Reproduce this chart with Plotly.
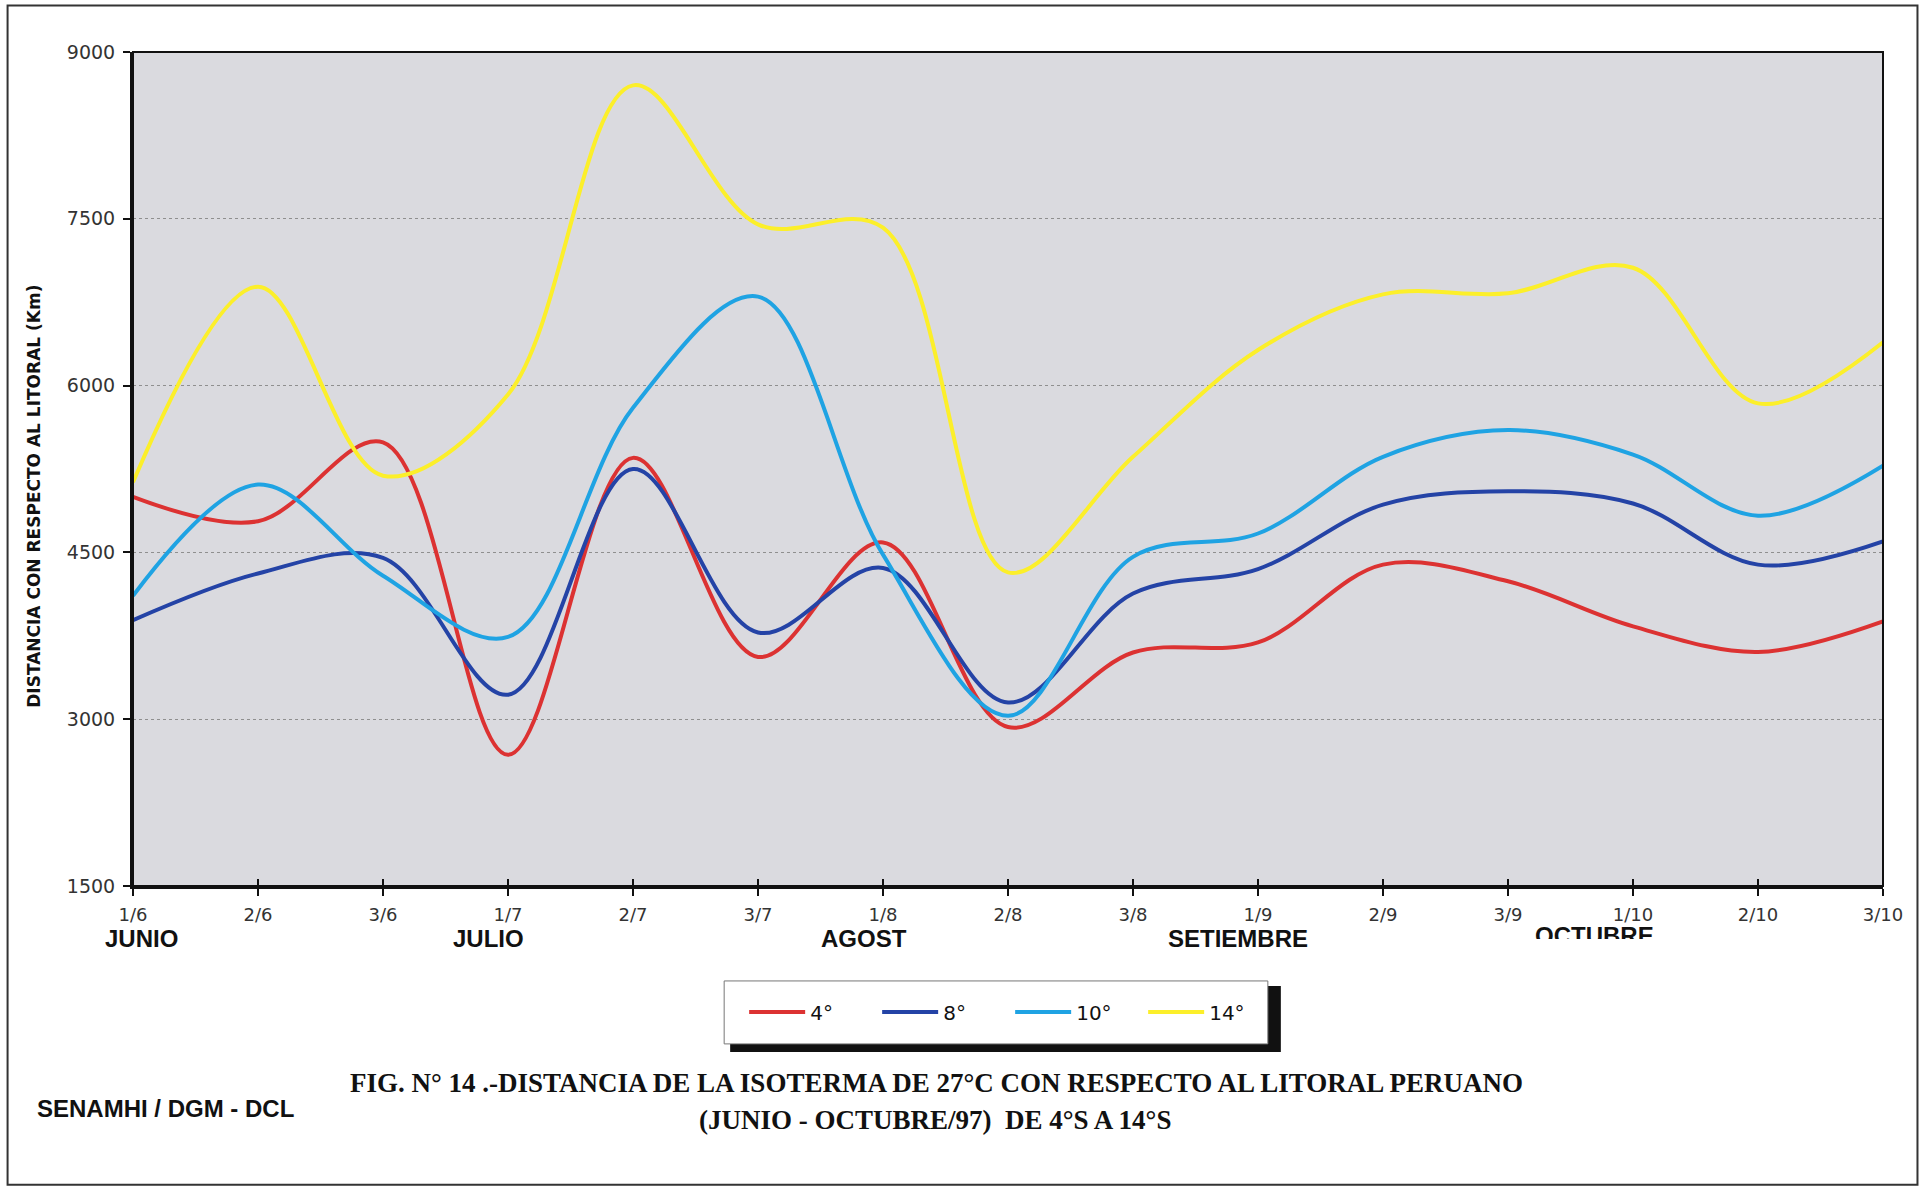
import plotly.graph_objects as go

# Fechas (decadas) de junio a octubre de 1997
categories = ["1/6", "2/6", "3/6", "1/7", "2/7", "3/7", "1/8", "2/8", "3/8",
              "1/9", "2/9", "3/9", "1/10", "2/10", "3/10"]

# Distancia (km) de la isoterma de 27 C al litoral, por latitud
lat_4 = [5000, 4780, 5490, 2680, 5350, 3560, 4590, 2930, 3600, 3690, 4390, 4240, 3835, 3605, 3880]
lat_8 = [3890, 4310, 4450, 3220, 5250, 3780, 4360, 3150, 4130, 4350, 4930, 5050, 4940, 4390, 4600]
lat_10 = [4110, 5110, 4290, 3740, 5800, 6800, 4480, 3030, 4460, 4670, 5360, 5600, 5380, 4830, 5280]
lat_14 = [5130, 6890, 5190, 5920, 8700, 7450, 7420, 4320, 5360, 6320, 6820, 6830, 7060, 5840, 6390]

series_names = ["4°", "8°", "10°", "14°"]
series_colors = ["#dc3232", "#2443a6", "#1fa3e3", "#fcef2a"]

months = ["JUNIO", "JULIO", "AGOST", "SETIEMBRE", "OCTUBRE"]
month_pos = [0.07, 2.84, 5.85, 8.84, 11.69]

y_ticks = [1500, 3000, 4500, 6000, 7500, 9000]

W, H = 1924, 1188
L, R, T, B = 132.5, 1883.5, 51.5, 886.0


def pxx(px):
    return (px - L) / (R - L)


def pxy(py):
    return (B - py) / (B - T)


x_idx = list(range(len(categories)))

fig = go.Figure()
for name, vals, color in zip(series_names, [lat_4, lat_8, lat_10, lat_14], series_colors):
    fig.add_trace(go.Scatter(
        x=x_idx, y=vals, mode="lines", name=name,
        line=dict(color=color, width=4, shape="spline", smoothing=1.0),
    ))

shapes = []
# outer frame of the figure
shapes.append(dict(type="rect", xref="paper", yref="paper",
                   x0=pxx(7), x1=pxx(1918), y0=pxy(1185), y1=pxy(5),
                   line=dict(color="#333333", width=2), layer="below"))
# plot border
shapes.append(dict(type="rect", xref="paper", yref="paper", x0=0, x1=1, y0=0, y1=1,
                   line=dict(color="#111111", width=2), layer="above"))
# inner half of the crossing x ticks
for i in x_idx:
    shapes.append(dict(type="line", xref="x", yref="paper", x0=i, x1=i,
                       y0=0, y1=7 / (B - T), line=dict(color="#111111", width=2)))
# legend box with drop shadow
shapes.append(dict(type="rect", xref="paper", yref="paper",
                   x0=pxx(730), x1=pxx(1281), y0=pxy(1052), y1=pxy(986),
                   fillcolor="#111111", line=dict(width=0), layer="above"))
shapes.append(dict(type="rect", xref="paper", yref="paper",
                   x0=pxx(724), x1=pxx(1268), y0=pxy(1044), y1=pxy(981),
                   fillcolor="white", line=dict(color="#777777", width=1), layer="above"))

month_font = dict(family="Liberation Sans", size=24, color="#111111", weight="bold")
annotations = []
for m, p in zip(months[:-1], month_pos[:-1]):
    annotations.append(dict(text=m, x=p, xref="x", y=pxy(939), yref="paper",
                            showarrow=False, xanchor="center", yanchor="middle",
                            font=month_font))
# the last month label is printed with its lower part cut off
annotations.append(dict(text=months[-1], x=month_pos[-1], xref="x", y=pxy(921), yref="paper",
                        showarrow=False, xanchor="center", yanchor="top",
                        height=17, valign="top", borderpad=0,
                        font=month_font))

annotations.append(dict(text="DISTANCIA CON RESPECTO AL LITORAL (Km)", textangle=-90,
                        x=pxx(34), xref="paper", y=pxy(496), yref="paper",
                        showarrow=False, xanchor="center", yanchor="middle",
                        font=dict(family="DejaVu Sans", size=17, color="#111111",
                                  weight="bold")))
annotations.append(dict(text="FIG. N° 14 .-DISTANCIA DE LA ISOTERMA DE 27°C CON RESPECTO AL LITORAL PERUANO",
                        x=pxx(936), xref="paper", y=pxy(1083), yref="paper",
                        showarrow=False, xanchor="center", yanchor="middle",
                        font=dict(family="Liberation Serif", size=27, color="#111111",
                                  weight="bold")))
annotations.append(dict(text="(JUNIO - OCTUBRE/97)  DE 4°S A 14°S",
                        x=pxx(935), xref="paper", y=pxy(1120), yref="paper",
                        showarrow=False, xanchor="center", yanchor="middle",
                        font=dict(family="Liberation Serif", size=27, color="#111111",
                                  weight="bold")))
annotations.append(dict(text="SENAMHI / DGM - DCL",
                        x=pxx(34), xref="paper", y=pxy(1109), yref="paper",
                        showarrow=False, xanchor="left", yanchor="middle",
                        font=dict(family="Liberation Sans", size=24, color="#111111",
                                  weight="bold")))

fig.update_layout(
    width=W, height=H,
    margin=dict(l=L, r=W - R, t=T, b=H - B, autoexpand=False),
    paper_bgcolor="white",
    plot_bgcolor="#dadadf",
    showlegend=True,
    legend=dict(orientation="h", x=pxx(744), xanchor="left", y=pxy(1012), yanchor="middle",
                bgcolor="rgba(0,0,0,0)", borderwidth=0, itemwidth=56,
                entrywidth=62, entrywidthmode="pixels",
                font=dict(family="DejaVu Sans", size=20, color="#111111"),
                traceorder="normal"),
    xaxis=dict(range=[0, 14], tickmode="array", tickvals=x_idx, ticktext=categories,
               showgrid=False, zeroline=False, showline=True, linecolor="#111111", linewidth=3,
               ticks="outside", ticklen=7, tickwidth=2, tickcolor="#111111",
               ticklabelstandoff=3,
               tickfont=dict(family="DejaVu Sans", size=18, color="#333333")),
    yaxis=dict(range=[1500, 9000], tickmode="array", tickvals=y_ticks,
               showgrid=True, gridcolor="#8f8f8f", gridwidth=1, griddash="dot",
               zeroline=False, showline=True, linecolor="#111111", linewidth=3,
               ticks="outside", ticklen=7, tickwidth=2, tickcolor="#111111",
               ticklabelstandoff=4,
               tickfont=dict(family="DejaVu Sans", size=19, color="#333333")),
    shapes=shapes,
    annotations=annotations,
)

fig.write_html("out.html")
